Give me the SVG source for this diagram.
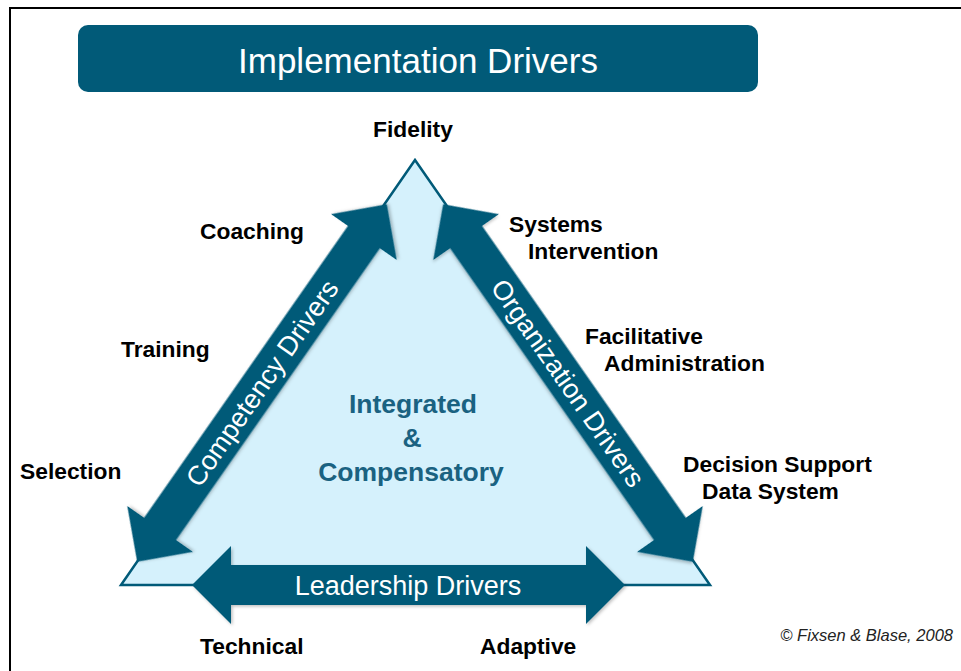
<svg xmlns="http://www.w3.org/2000/svg" width="961" height="671" viewBox="0 0 961 671">
<defs>
<style>
.lbl{font-family:"Liberation Sans",Arial,sans-serif;font-weight:bold;font-size:22.8px;fill:#000}
.arrow{fill:#015a78}
.atxt{font-family:"Liberation Sans",Arial,sans-serif;font-size:27px;fill:#fff}
.ctr{font-family:"Liberation Sans",Arial,sans-serif;font-weight:bold;font-size:26.5px;fill:#1a6281}
</style>
<filter id="sh" x="-10%" y="-10%" width="120%" height="120%">
<feDropShadow dx="1.5" dy="1.5" stdDeviation="1.5" flood-color="#000" flood-opacity="0.25"/>
</filter>
</defs>
<rect width="961" height="671" fill="#fff"/>
<g id="frame" stroke="#000" stroke-width="2" fill="none">
<line x1="9" y1="8" x2="961" y2="8"/>
<line x1="10" y1="7" x2="10" y2="671"/>
</g>
<g id="title">
<rect x="78" y="25" width="680" height="67" rx="10" fill="#015a78"/>
<text x="418" y="73" text-anchor="middle" font-family="'Liberation Sans',Arial,sans-serif" font-size="35" fill="#fff" textLength="360" lengthAdjust="spacingAndGlyphs">Implementation  Drivers</text>
</g>
<g id="triangle">
<polygon points="415,160 121,585 710,585" fill="#d5f1fc" stroke="#015a78" stroke-width="2.5" stroke-linejoin="miter"/>
</g>
<g id="connectors">
<g id="competency" transform="translate(262,383) rotate(-55.07)">
<polygon class="arrow" filter="url(#sh)" points="-218,0 -178,-40 -178,-19.5 178,-19.5 178,-40 218,0 178,40 178,19.5 -178,19.5 -178,40"/>
<text class="atxt" x="0" y="9.5" text-anchor="middle">Competency Drivers</text>
</g>
<g id="organization" transform="translate(568,383) rotate(55.07)">
<polygon class="arrow" filter="url(#sh)" points="-218,0 -178,-40 -178,-19.5 178,-19.5 178,-40 218,0 178,40 178,19.5 -178,19.5 -178,40"/>
<text class="atxt" x="0" y="9.5" text-anchor="middle">Organization Drivers</text>
</g>
<g id="leadership">
<polygon class="arrow" filter="url(#sh)" points="192,585 231,546 231,565 586,565 586,546 625,585 586,624 586,605 231,605 231,624"/>
<text class="atxt" x="408" y="595" text-anchor="middle" font-size="27.5">Leadership Drivers</text>
</g>
</g>
<g id="center">
<text class="ctr" x="413" y="413" text-anchor="middle">Integrated</text>
<text class="ctr" x="412" y="447" text-anchor="middle">&amp;</text>
<text class="ctr" x="411" y="481" text-anchor="middle">Compensatory</text>
</g>
<g id="fidelity"><text class="lbl" x="413" y="137" text-anchor="middle">Fidelity</text></g>
<g id="coaching"><text class="lbl" x="200" y="239">Coaching</text></g>
<g id="training"><text class="lbl" x="121" y="357">Training</text></g>
<g id="selection"><text class="lbl" x="20" y="479">Selection</text></g>
<g id="systems-intervention">
<text class="lbl" x="509" y="232">Systems</text>
<text class="lbl" x="528" y="259">Intervention</text>
</g>
<g id="facilitative-administration">
<text class="lbl" x="585" y="344">Facilitative</text>
<text class="lbl" x="604" y="371">Administration</text>
</g>
<g id="decision-support">
<text class="lbl" x="683" y="472">Decision Support</text>
<text class="lbl" x="702" y="499">Data System</text>
</g>
<g id="technical"><text class="lbl" x="200" y="654">Technical</text></g>
<g id="adaptive"><text class="lbl" x="480" y="654">Adaptive</text></g>
<g id="copyright"><text x="953" y="641" text-anchor="end" font-family="'Liberation Sans',Arial,sans-serif" font-style="italic" font-size="16.5" fill="#222">© Fixsen &amp; Blase, 2008</text></g>
</svg>
